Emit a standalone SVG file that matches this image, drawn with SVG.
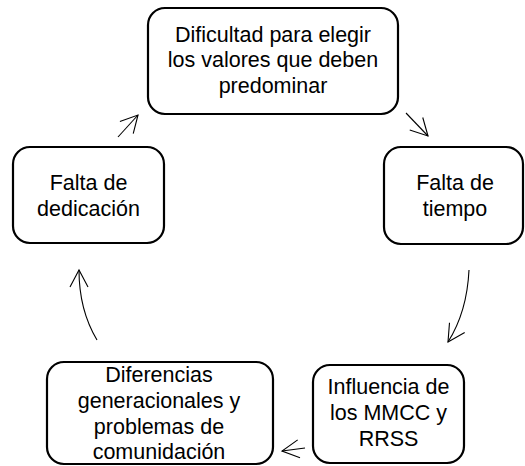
<svg xmlns="http://www.w3.org/2000/svg" width="525" height="466" viewBox="0 0 525 466">
<defs>
<style>
.box{fill:#fff;stroke:#000;stroke-width:2.2}
.lbl{font-family:"Liberation Sans",Arial,sans-serif;font-size:21.5px;fill:#000;text-anchor:middle}
.conn{fill:none;stroke:#000;stroke-width:1.1}
</style>
<marker id="ah" viewBox="0 0 20 20" refX="18" refY="10" markerWidth="20" markerHeight="20" markerUnits="userSpaceOnUse" orient="auto">
<path d="M1,1 L18,10 L1,19" fill="none" stroke="#000" stroke-width="1.1"/>
</marker>
</defs>
<rect width="525" height="466" fill="#fff"/>
<g id="n1">
<rect class="box" x="148" y="8" width="250" height="106" rx="17"/>
<text class="lbl"><tspan x="273" y="41.7">Dificultad para elegir</tspan><tspan x="273" y="67.3">los valores que deben</tspan><tspan x="273" y="93">predominar</tspan></text>
</g>
<g id="n2">
<rect class="box" x="384" y="147" width="139" height="97" rx="17"/>
<text class="lbl"><tspan x="455" y="190">Falta de</tspan><tspan x="455" y="216">tiempo</tspan></text>
</g>
<g id="n3">
<rect class="box" x="313" y="365" width="151" height="98" rx="17"/>
<text class="lbl"><tspan x="388.5" y="394">Influencia de</tspan><tspan x="388.5" y="420">los MMCC y</tspan><tspan x="388.5" y="446">RRSS</tspan></text>
</g>
<g id="n4">
<rect class="box" x="47" y="362" width="226" height="102" rx="17"/>
<text class="lbl"><tspan x="159" y="382">Diferencias</tspan><tspan x="159" y="408">generacionales y</tspan><tspan x="159" y="434">problemas de</tspan><tspan x="159" y="459">comunidación</tspan></text>
</g>
<g id="n5">
<rect class="box" x="13" y="147" width="151" height="96" rx="17"/>
<text class="lbl"><tspan x="88.5" y="190">Falta de</tspan><tspan x="88.5" y="216">dedicación</tspan></text>
</g>
<g id="connectors">
<path class="conn" d="M406,113 L428,136" marker-end="url(#ah)"/>
<path class="conn" d="M469,270 Q467,312 448,342" marker-end="url(#ah)"/>
<path class="conn" d="M305,448 L282,451" marker-end="url(#ah)"/>
<path class="conn" d="M97,340 Q79,310 79,270" marker-end="url(#ah)"/>
<path class="conn" d="M118,137 L138,115" marker-end="url(#ah)"/>
</g>
</svg>
